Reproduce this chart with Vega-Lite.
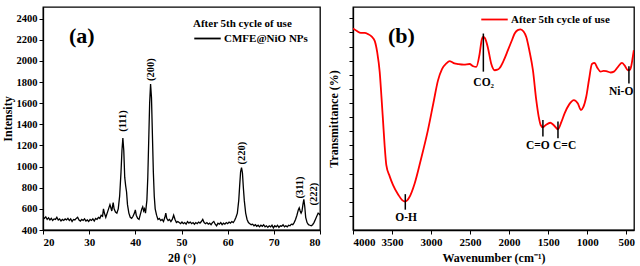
{
  "$schema": "https://vega.github.io/schema/vega-lite/v6.json",
  "padding": {"left": 0, "top": 4, "right": 3, "bottom": 2},
  "spacing": 4,
  "config": {
    "view": {"stroke": "black", "strokeWidth": 1.3},
    "font": "Liberation Serif",
    "axis": {"domainColor": "black", "domainWidth": 1.3, "tickColor": "black", "tickSize": 4, "labelFont": "Liberation Serif", "labelFontWeight": "bold", "labelFontSize": 11, "labelColor": "black", "labelPadding": 2, "labelOverlap": false, "format": "d", "titleFont": "Liberation Serif", "titleFontWeight": "bold", "titleFontSize": 12, "titleColor": "black", "grid": false},
    "legend": {"labelFont": "Liberation Serif", "labelFontWeight": "bold", "labelFontSize": 11, "labelColor": "black", "titleFont": "Liberation Serif", "titleFontWeight": "bold", "titleFontSize": 11, "titleColor": "black", "symbolType": "stroke", "symbolSize": 700, "symbolStrokeWidth": 1.8, "padding": 0, "labelOffset": 2, "titlePadding": -5}
  },
  "resolve": {"scale": {"color": "independent"}, "legend": {"color": "independent"}},
  "datasets": {
    "xrd": [
      {"t":20,"i":520},{"t":20.3,"i":510},{"t":20.6,"i":525},{"t":20.9,"i":500},{"t":21.2,"i":515},{"t":21.5,"i":495},{"t":21.8,"i":510},{"t":22.1,"i":490},{"t":22.4,"i":505},{"t":22.7,"i":500},{"t":23,"i":520},{"t":23.3,"i":495},{"t":23.6,"i":505},{"t":23.9,"i":485},{"t":24.2,"i":500},{"t":24.5,"i":490},{"t":24.8,"i":505},{"t":25.1,"i":495},{"t":25.4,"i":510},{"t":25.7,"i":490},{"t":26,"i":505},{"t":26.3,"i":480},{"t":26.6,"i":500},{"t":26.9,"i":495},{"t":27.2,"i":510},{"t":27.5,"i":520},{"t":27.8,"i":495},{"t":28.1,"i":485},{"t":28.4,"i":500},{"t":28.7,"i":490},{"t":29,"i":505},{"t":29.3,"i":485},{"t":29.6,"i":495},{"t":29.9,"i":480},{"t":30.2,"i":500},{"t":30.5,"i":490},{"t":30.8,"i":505},{"t":31.1,"i":485},{"t":31.4,"i":510},{"t":31.7,"i":500},{"t":32,"i":520},{"t":32.3,"i":510},{"t":32.6,"i":540},{"t":32.9,"i":530},{"t":33.1,"i":600},{"t":33.3,"i":560},{"t":33.6,"i":520},{"t":33.9,"i":560},{"t":34.2,"i":600},{"t":34.5,"i":640},{"t":34.7,"i":610},{"t":34.9,"i":580},{"t":35.2,"i":660},{"t":35.4,"i":600},{"t":35.7,"i":570},{"t":36,"i":560},{"t":36.3,"i":600},{"t":36.6,"i":720},{"t":36.9,"i":950},{"t":37.1,"i":1150},{"t":37.3,"i":1270},{"t":37.5,"i":1150},{"t":37.7,"i":900},{"t":37.9,"i":820},{"t":38.1,"i":760},{"t":38.3,"i":640},{"t":38.6,"i":560},{"t":38.9,"i":520},{"t":39.2,"i":510},{"t":39.5,"i":530},{"t":39.8,"i":560},{"t":40,"i":590},{"t":40.2,"i":540},{"t":40.5,"i":510},{"t":40.8,"i":500},{"t":41.1,"i":550},{"t":41.4,"i":600},{"t":41.6,"i":620},{"t":41.8,"i":580},{"t":42,"i":600},{"t":42.2,"i":560},{"t":42.5,"i":680},{"t":42.7,"i":900},{"t":42.9,"i":1250},{"t":43.1,"i":1600},{"t":43.3,"i":1780},{"t":43.5,"i":1650},{"t":43.7,"i":1300},{"t":43.9,"i":950},{"t":44.1,"i":720},{"t":44.3,"i":600},{"t":44.6,"i":540},{"t":44.9,"i":500},{"t":45.2,"i":510},{"t":45.5,"i":490},{"t":45.8,"i":500},{"t":46.1,"i":480},{"t":46.4,"i":520},{"t":46.6,"i":560},{"t":46.8,"i":510},{"t":47.1,"i":490},{"t":47.4,"i":500},{"t":47.7,"i":480},{"t":48,"i":500},{"t":48.3,"i":540},{"t":48.6,"i":500},{"t":48.9,"i":470},{"t":49.2,"i":480},{"t":49.5,"i":470},{"t":49.8,"i":460},{"t":50.1,"i":475},{"t":50.4,"i":460},{"t":50.7,"i":470},{"t":51,"i":455},{"t":51.3,"i":480},{"t":51.6,"i":465},{"t":51.9,"i":475},{"t":52.2,"i":460},{"t":52.5,"i":470},{"t":52.8,"i":455},{"t":53.1,"i":470},{"t":53.4,"i":460},{"t":53.7,"i":475},{"t":54,"i":465},{"t":54.3,"i":480},{"t":54.6,"i":500},{"t":54.9,"i":470},{"t":55.2,"i":460},{"t":55.5,"i":470},{"t":55.8,"i":455},{"t":56.1,"i":465},{"t":56.4,"i":450},{"t":56.7,"i":470},{"t":57,"i":480},{"t":57.3,"i":455},{"t":57.6,"i":440},{"t":57.9,"i":465},{"t":58.2,"i":455},{"t":58.5,"i":470},{"t":58.8,"i":450},{"t":59.1,"i":465},{"t":59.4,"i":455},{"t":59.7,"i":470},{"t":60,"i":460},{"t":60.3,"i":475},{"t":60.6,"i":465},{"t":60.9,"i":480},{"t":61.2,"i":470},{"t":61.5,"i":490},{"t":61.8,"i":520},{"t":62.1,"i":560},{"t":62.4,"i":680},{"t":62.6,"i":820},{"t":62.8,"i":950},{"t":63,"i":990},{"t":63.2,"i":940},{"t":63.4,"i":800},{"t":63.6,"i":680},{"t":63.9,"i":560},{"t":64.2,"i":500},{"t":64.5,"i":470},{"t":64.8,"i":460},{"t":65.1,"i":450},{"t":65.4,"i":455},{"t":65.7,"i":440},{"t":66,"i":450},{"t":66.3,"i":435},{"t":66.6,"i":445},{"t":66.9,"i":430},{"t":67.2,"i":445},{"t":67.5,"i":435},{"t":67.8,"i":450},{"t":68.1,"i":430},{"t":68.4,"i":440},{"t":68.7,"i":425},{"t":69,"i":440},{"t":69.3,"i":430},{"t":69.6,"i":445},{"t":69.9,"i":420},{"t":70.2,"i":440},{"t":70.5,"i":430},{"t":70.8,"i":445},{"t":71.1,"i":425},{"t":71.4,"i":440},{"t":71.7,"i":435},{"t":72,"i":450},{"t":72.3,"i":430},{"t":72.6,"i":440},{"t":72.9,"i":430},{"t":73.2,"i":445},{"t":73.5,"i":440},{"t":73.8,"i":455},{"t":74.1,"i":450},{"t":74.4,"i":470},{"t":74.7,"i":500},{"t":75,"i":540},{"t":75.3,"i":590},{"t":75.5,"i":610},{"t":75.7,"i":580},{"t":75.9,"i":560},{"t":76.1,"i":580},{"t":76.3,"i":640},{"t":76.5,"i":690},{"t":76.7,"i":620},{"t":76.9,"i":520},{"t":77.2,"i":470},{"t":77.5,"i":450},{"t":77.8,"i":445},{"t":78.1,"i":440},{"t":78.4,"i":450},{"t":78.7,"i":470},{"t":79,"i":500},{"t":79.3,"i":530},{"t":79.6,"i":560},{"t":79.8,"i":555},{"t":80,"i":540}
    ],
    "xrdLabels": [
      {"t":37.3,"i":1431,"label":"(111)"},
      {"t":43.4,"i":1918,"label":"(200)"},
      {"t":63.2,"i":1128,"label":"(220)"},
      {"t":75.6,"i":802,"label":"(311)"},
      {"t":78.6,"i":740,"label":"(222)"}
    ],
    "ftir": [
      {"w":4000,"v":71.4},{"w":3950,"v":70.5},{"w":3900,"v":69.8},{"w":3850,"v":69.8},{"w":3808,"v":69.4},{"w":3760,"v":68.5},{"w":3722,"v":67},{"w":3690,"v":63},{"w":3658,"v":56},{"w":3635,"v":47},{"w":3616,"v":39},{"w":3595,"v":30},{"w":3573,"v":23},{"w":3530,"v":19},{"w":3488,"v":16},{"w":3420,"v":12.5},{"w":3370,"v":10.6},{"w":3330,"v":10.1},{"w":3280,"v":11.5},{"w":3210,"v":16.5},{"w":3130,"v":25},{"w":3040,"v":35.4},{"w":2970,"v":45},{"w":2911,"v":53},{"w":2860,"v":57},{"w":2805,"v":59},{"w":2760,"v":59.8},{"w":2741,"v":59.6},{"w":2700,"v":59},{"w":2655,"v":58.8},{"w":2580,"v":58.6},{"w":2506,"v":58.8},{"w":2460,"v":58},{"w":2420,"v":57.8},{"w":2380,"v":62},{"w":2350,"v":67.5},{"w":2335,"v":68.4},{"w":2310,"v":68},{"w":2271,"v":64.5},{"w":2230,"v":59},{"w":2185,"v":56.6},{"w":2150,"v":56.8},{"w":2121,"v":57.4},{"w":2070,"v":60},{"w":2015,"v":63.7},{"w":1960,"v":67.5},{"w":1929,"v":69.6},{"w":1890,"v":70.8},{"w":1852,"v":71.1},{"w":1815,"v":70.3},{"w":1780,"v":68.4},{"w":1740,"v":63.5},{"w":1695,"v":56.6},{"w":1652,"v":46},{"w":1620,"v":40},{"w":1596,"v":37.2},{"w":1567,"v":36.4},{"w":1530,"v":37.2},{"w":1473,"v":38},{"w":1430,"v":37.2},{"w":1374,"v":35.7},{"w":1330,"v":38.3},{"w":1289,"v":41.3},{"w":1230,"v":44.5},{"w":1170,"v":46},{"w":1119,"v":44.8},{"w":1080,"v":42.5},{"w":1050,"v":43.5},{"w":1012,"v":47.2},{"w":975,"v":53.5},{"w":939,"v":58.8},{"w":905,"v":59.2},{"w":870,"v":57.5},{"w":828,"v":56.1},{"w":790,"v":56.4},{"w":756,"v":56.3},{"w":700,"v":55.8},{"w":657,"v":56.1},{"w":600,"v":58},{"w":555,"v":59.2},{"w":520,"v":58.3},{"w":478,"v":56.6},{"w":450,"v":56.8},{"w":436,"v":58},{"w":420,"v":60.5},{"w":402,"v":63.7}
    ],
    "ftirMarks": [
      {"w":3330,"v1":7.2,"v2":12.7},
      {"w":2330,"v1":56.1,"v2":69.6},
      {"w":1567,"v1":33.1,"v2":39},
      {"w":1374,"v1":32.5,"v2":38.4},
      {"w":465,"v1":51.9,"v2":58}
    ],
    "ftirLabels": [
      {"w":3320,"v":4.2,"label":"O-H"},
      {"w":2326,"v":52,"label":"CO₂"},
      {"w":1631,"v":29.7,"label":"C=O"},
      {"w":1289,"v":29.7,"label":"C=C"},
      {"w":564,"v":48.8,"label":"Ni-O"}
    ]
  },
  "hconcat": [
    {
      "width": 277,
      "height": 223,
      "layer": [
        {
          "data": {"name": "xrd"},
          "transform": [{"calculate": "'CMFE@NiO NPs'", "as": "series"}],
          "mark": {"type": "line", "strokeWidth": 1.3, "clip": true},
          "encoding": {
            "x": {"field": "t", "type": "quantitative", "scale": {"domain": [20, 80], "nice": false, "zero": false}, "axis": {"title": "2θ (°)", "values": [20,30,40,50,60,70,80], "tickCount": 20, "labelOverlap": false, "titlePadding": 5}},
            "y": {"field": "i", "type": "quantitative", "scale": {"domain": [400, 2510], "nice": false, "zero": false}, "axis": {"title": "Intensity", "values": [400,600,800,1000,1200,1400,1600,1800,2000,2200,2400], "tickCount": 20, "labelOverlap": false, "labelFontSize": 10.5, "titlePadding": 2}},
            "color": {"field": "series", "type": "nominal", "scale": {"range": ["#000000"]}, "legend": {"title": "After 5th cycle of use", "orient": "none", "legendX": 150, "legendY": 11}}
          }
        },
        {
          "data": {"name": "xrdLabels"},
          "mark": {"type": "text", "angle": 270, "align": "center", "baseline": "middle", "fontSize": 10.5, "fontWeight": "bold", "font": "Liberation Serif", "color": "black"},
          "encoding": {
            "x": {"field": "t", "type": "quantitative"},
            "y": {"field": "i", "type": "quantitative"},
            "text": {"field": "label"}
          }
        },
        {
          "data": {"values": [{"t": 28.4, "i": 2235, "label": "(a)"}]},
          "mark": {"type": "text", "align": "center", "baseline": "middle", "fontSize": 22, "fontWeight": "bold", "font": "Liberation Serif", "color": "black"},
          "encoding": {
            "x": {"field": "t", "type": "quantitative"},
            "y": {"field": "i", "type": "quantitative"},
            "text": {"field": "label"}
          }
        }
      ]
    },
    {
      "width": 281,
      "height": 223,
      "layer": [
        {
          "data": {"name": "ftir"},
          "transform": [{"calculate": "'After 5th cycle of use'", "as": "series"}],
          "mark": {"type": "line", "strokeWidth": 1.8, "interpolate": "monotone", "clip": true},
          "encoding": {
            "x": {"field": "w", "type": "quantitative", "scale": {"domain": [400, 4000], "reverse": true, "nice": false, "zero": false}, "axis": {"title": "Wavenumber (cm⁻¹)", "values": [4000,3500,3000,2500,2000,1500,1000,500], "tickCount": 20, "labelOverlap": false, "titlePadding": 5}},
            "y": {"field": "v", "type": "quantitative", "scale": {"domain": [0, 79], "nice": false, "zero": false}, "axis": {"title": "Transmittance (%)", "labels": false, "values": [5,10,15,20,25,30,35,40,45,50,55,60,65,70,75], "tickCount": 20, "titlePadding": 8}},
            "color": {"field": "series", "type": "nominal", "scale": {"range": ["#ff0000"]}, "legend": {"title": null, "orient": "none", "legendX": 127, "legendY": -2}}
          }
        },
        {
          "data": {"name": "ftirMarks"},
          "mark": {"type": "rule", "strokeWidth": 1.5, "color": "black"},
          "encoding": {
            "x": {"field": "w", "type": "quantitative"},
            "y": {"field": "v1", "type": "quantitative"},
            "y2": {"field": "v2"}
          }
        },
        {
          "data": {"name": "ftirLabels"},
          "mark": {"type": "text", "align": "center", "baseline": "middle", "fontSize": 11.5, "fontWeight": "bold", "font": "Liberation Serif", "color": "black"},
          "encoding": {
            "x": {"field": "w", "type": "quantitative"},
            "y": {"field": "v", "type": "quantitative"},
            "text": {"field": "label"}
          }
        },
        {
          "data": {"values": [{"w": 3379, "v": 68.6, "label": "(b)"}]},
          "mark": {"type": "text", "align": "center", "baseline": "middle", "fontSize": 22, "fontWeight": "bold", "font": "Liberation Serif", "color": "black"},
          "encoding": {
            "x": {"field": "w", "type": "quantitative"},
            "y": {"field": "v", "type": "quantitative"},
            "text": {"field": "label"}
          }
        }
      ]
    }
  ]
}
